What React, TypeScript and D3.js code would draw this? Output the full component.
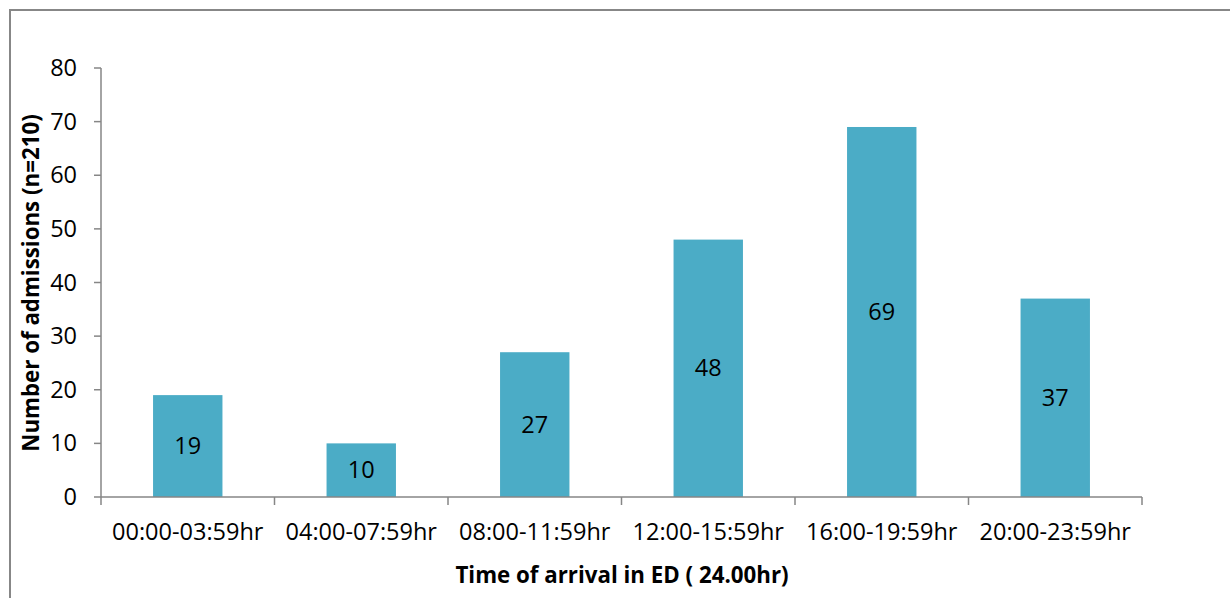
import React from "react";
import * as d3 from "d3";

const categories = [
  "00:00-03:59hr",
  "04:00-07:59hr",
  "08:00-11:59hr",
  "12:00-15:59hr",
  "16:00-19:59hr",
  "20:00-23:59hr",
];
const values = [19, 10, 27, 48, 69, 37];
const yTicks = [0, 10, 20, 30, 40, 50, 60, 70, 80];
const yTitle = "Number of admissions (n=210)";
const xTitle = "Time of arrival in ED ( 24.00hr)";

export default function App() {
  const W = 1230, H = 598;
  const left = 101, right = 1142, top = 68, bottom = 497;
  const x = d3.scaleBand<string>().domain(categories).range([left, right]).paddingInner(0.6).paddingOuter(0.3);
  const xb = d3.scaleBand<string>().domain(categories).range([left, right]);
  const y = d3.scaleLinear().domain([0, 80]).range([bottom, top]);
  const font = "'Open Sans', 'Liberation Sans', sans-serif";
  const axisColor = "#868686";
  const fs = 23.5;
  return (
    <svg width={W} height={H} style={{ position: "absolute", left: 0, top: 0, background: "#fff" }}>
      <rect x={0} y={0} width={W} height={H} fill="#fff" />
      <path d={`M10,${H + 5} V10 H${W + 5}`} fill="none" stroke="#878787" strokeWidth={2} />
      {values.map((v, i) => (
        <g key={i}>
          <rect x={x(categories[i])!} y={y(v)} width={x.bandwidth()} height={bottom - y(v)} fill="#4BACC6" />
          <text x={x(categories[i])! + x.bandwidth() / 2} y={(y(v) + bottom) / 2 + 8} textAnchor="middle" fontFamily={font} fontSize={fs} fill="#000">{v}</text>
        </g>
      ))}
      <line x1={left} x2={left} y1={top} y2={bottom} stroke={axisColor} strokeWidth={1.5} />
      {yTicks.map((t) => (
        <g key={t}>
          <line x1={left - 7} x2={left} y1={y(t)} y2={y(t)} stroke={axisColor} strokeWidth={1.5} />
          <text x={77} y={y(t) + 8} textAnchor="end" fontFamily={font} fontSize={fs} fill="#000">{t}</text>
        </g>
      ))}
      <line x1={left} x2={right} y1={bottom} y2={bottom} stroke={axisColor} strokeWidth={1.5} />
      {[...categories.map((c) => xb(c)!), right].map((px, i) => (
        <line key={i} x1={px} x2={px} y1={bottom} y2={bottom + 8} stroke={axisColor} strokeWidth={1.5} />
      ))}
      {categories.map((c) => (
        <text key={c} x={xb(c)! + xb.bandwidth() / 2} y={540} textAnchor="middle" fontFamily={font} fontSize={fs} fill="#000">{c}</text>
      ))}
      <text x={622} y={583} textAnchor="middle" fontFamily={font} fontSize={22.3} fontWeight="bold" fill="#000">{xTitle}</text>
      <text transform={`translate(39,283) rotate(-90)`} textAnchor="middle" fontFamily={font} fontSize={22.3} fontWeight="bold" fill="#000">{yTitle}</text>
    </svg>
  );
}
